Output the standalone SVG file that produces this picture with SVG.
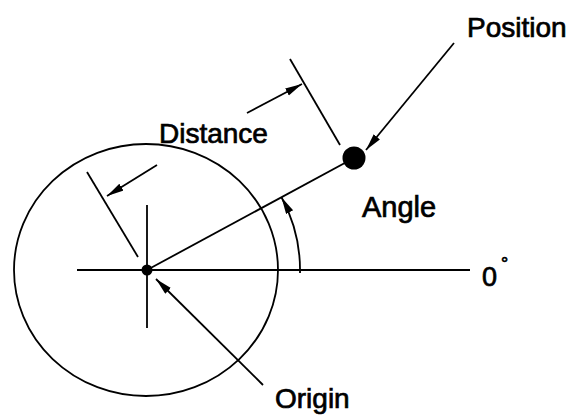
<svg xmlns="http://www.w3.org/2000/svg" width="569" height="416" viewBox="0 0 569 416">
<style>
.ln{stroke:#000;stroke-width:1.8;fill:none}
.lbl{font-family:"Liberation Sans",Arial,sans-serif;font-size:28px;fill:#000;stroke:#000;stroke-width:0.7}
</style>
<defs>
<marker id="ah" markerUnits="userSpaceOnUse" markerWidth="18" markerHeight="10" refX="17" refY="4" orient="auto">
<path d="M0,0 L17,4 L0,8 z" fill="#000"/>
</marker>
</defs>
<rect width="569" height="416" fill="#fff"/>
<g id="circle"><ellipse class="ln" cx="146" cy="270" rx="132" ry="126"/></g>
<g id="connectors">
<line class="ln" x1="77" y1="270" x2="470" y2="270"/>
<line class="ln" x1="147" y1="205" x2="147" y2="328"/>
<line class="ln" x1="147" y1="270" x2="354" y2="158"/>
<line class="ln" x1="290" y1="59" x2="340" y2="145"/>
<line class="ln" x1="87" y1="172" x2="138" y2="257"/>
<line class="ln" x1="247" y1="113" x2="302" y2="84" marker-end="url(#ah)"/>
<line class="ln" x1="157" y1="165" x2="107" y2="196" marker-end="url(#ah)"/>
<line class="ln" x1="454" y1="43" x2="366" y2="150" marker-end="url(#ah)"/>
<line class="ln" x1="263" y1="385" x2="156" y2="279" marker-end="url(#ah)"/>
<path class="ln" d="M300,273 A153,153 0 0 0 281.5,197.2" marker-end="url(#ah)"/>
</g>
<g id="origin"><circle cx="147" cy="270" r="5.5" fill="#000"/><text class="lbl" x="275" y="408">Origin</text></g>
<g id="position"><circle cx="354" cy="158" r="11.5" fill="#000"/><text class="lbl" x="467" y="37">Position</text></g>
<g id="distance"><text class="lbl" x="159" y="143">Distance</text></g>
<g id="angle"><text class="lbl" x="362" y="217" style="font-size:29px">Angle</text></g>
<g id="zero"><text class="lbl" x="482" y="286" style="font-size:27px">0<tspan dx="4" dy="-16" style="font-size:18px">°</tspan></text></g>
</svg>
